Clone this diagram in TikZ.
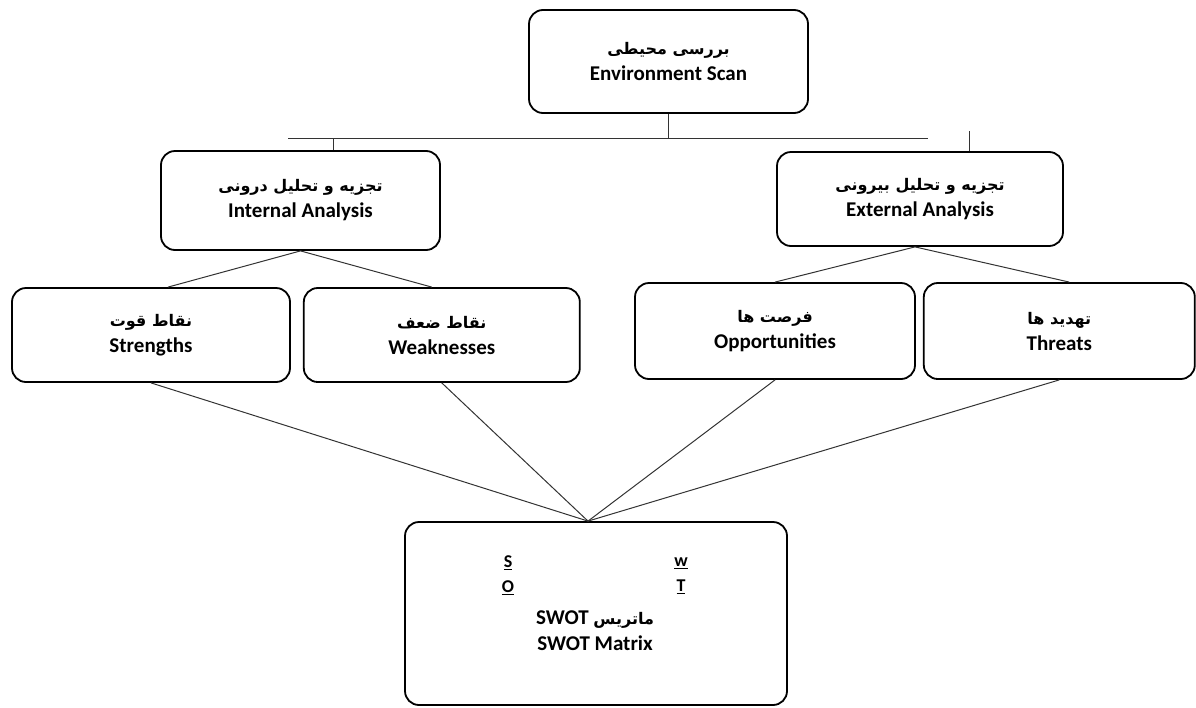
\documentclass[tikz,border=0pt]{standalone}
\usepackage{fontspec}
\setmainfont{Carlito}
\newfontfamily\arabicfont[Script=Arabic]{DejaVu Sans}
\TeXXeTstate=1
\usetikzlibrary{positioning}
\newcommand{\fa}[1]{{\arabicfont\fontsize{16}{26}\selectfont\bfseries\beginR #1\endR}}

\begin{document}
\begin{tikzpicture}[
    x=1pt, y=-1pt,
    font=\fontsize{21}{26}\selectfont\bfseries,
    box/.style={draw=black, line width=1.8pt, rounded corners=14pt, align=center,
                fill=white, inner sep=0pt},
    wide/.style={minimum width=279pt, minimum height=97pt},
    link/.style={draw=black!80, line width=1pt},
    letter/.style={align=center, font=\fontsize{18}{25}\selectfont\bfseries},
  ]
    \useasboundingbox (0,0) rectangle (1196,707);

    \node[box, wide, minimum height=103pt] (env) at (668.5,61.5)
       {\fa{بررسی محیطی}\\Environment Scan};
    \node[box, wide, minimum height=99pt] (int) at (300.5,200.5)
       {\fa{تجزیه و تحلیل درونی}\\Internal Analysis};
    \node[box, wide, minimum width=286pt, minimum height=94pt] (ext) at (920,199)
       {\fa{تجزیه و تحلیل بیرونی}\\External Analysis};

    \node[box, wide, minimum width=278pt, minimum height=94pt] (st) at (151,335)
       {\fa{نقاط قوت}\\Strengths};
    \node[box, wide, minimum width=276pt, minimum height=94pt, right=12pt of st] (wk)
       {\fa{نقاط ضعف}\\Weaknesses};
    \node[box, wide, minimum width=280pt, minimum height=96pt] (op) at (775,331)
       {\fa{فرصت ها}\\Opportunities};
    \node[box, wide, minimum width=271pt, minimum height=96pt, right=7pt of op] (th)
       {\fa{تهدید ها}\\Threats};

    \node[box, minimum width=382pt, minimum height=183pt] (swot) at (596,613.5) {};
    \node[letter] (so) at (508,575.5) {\underline{S}\\\underline{O}};
    \node[letter] (wt) at (681,575.5) {\underline{w}\\\underline{T}};
    \node[align=center] (cap) at (595,631) {SWOT \fa{ماتریس}\\SWOT Matrix};

    \coordinate (busL) at (288,138);
    \coordinate (busR) at (928,138);
    \coordinate (tickL) at ([xshift=33pt]int.north);
    \coordinate (tickR) at ([xshift=49pt]ext.north);
    \draw[link] (busL) -- (busR);
    \draw[link] (env.south) -- (env.south |- busL);
    \draw[link] (tickL) -- (tickL |- busL);
    \draw[link] (tickR) -- ++(0,-20);

    \draw[link] ([xshift=17pt]st.north) -- (int.south) -- ([xshift=-10pt]wk.north);
    \draw[link] (op.north) -- ([xshift=-5pt]ext.south) -- ([xshift=10pt]th.north);
    \foreach \n in {st,wk,op,th}
      \draw[link] (\n.south) -- ([xshift=-8pt]swot.north);
  \end{tikzpicture}
\end{document}
